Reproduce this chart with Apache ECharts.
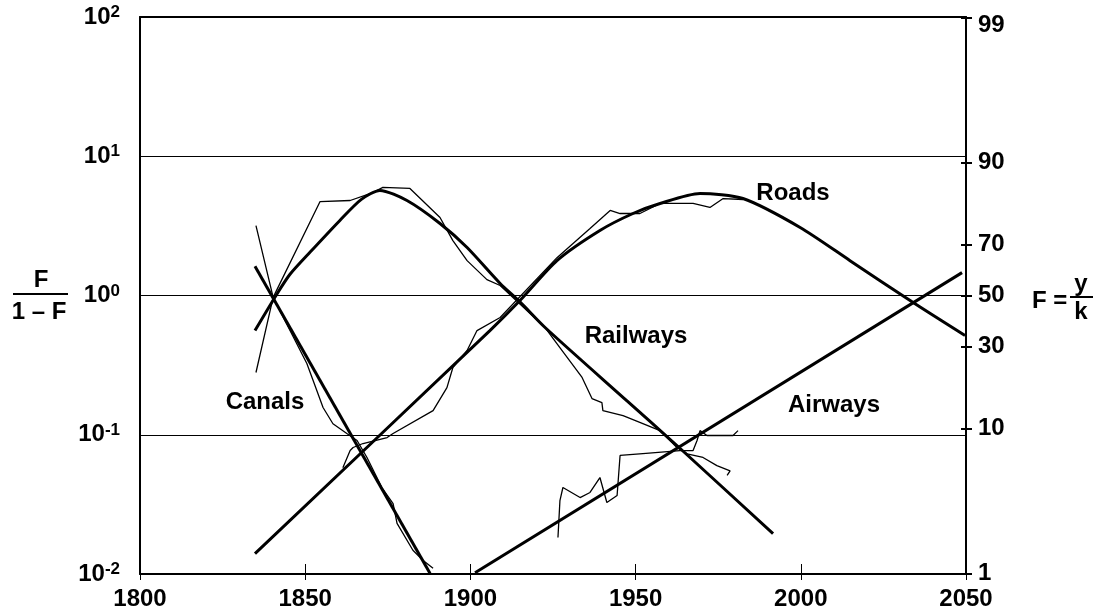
<!DOCTYPE html>
<html>
<head>
<meta charset="utf-8">
<script src="https://cdn.jsdelivr.net/npm/echarts@6/dist/echarts.min.js"></script>
<style>
  html, body { margin: 0; padding: 0; background: #fff; }
  #chart { width: 1100px; height: 616px; }
</style>
</head>
<body>
<div id="chart"></div>
<script>
// F/(1-F) substitution curves, [year, F/(1-F)]
const canalsFit = [[1834.8, 1.62], [1887.8, 0.0101]];
const canalsObs = [
  [1835.1, 3.18], [1840.3, 0.97], [1845.4, 0.56], [1850.5, 0.325], [1852.4, 0.245],
  [1855.4, 0.157], [1858.4, 0.12], [1862.6, 0.102], [1865.7, 0.091], [1868.7, 0.0687],
  [1873.2, 0.0418], [1876.6, 0.032], [1877.8, 0.0231], [1882.6, 0.0148], [1885.7, 0.0125],
  [1888.7, 0.011]
];
const railwaysFit = [
  [1834.8, 0.56], [1841.5, 1.03], [1845.4, 1.42], [1851.5, 2.05], [1860.5, 3.46],
  [1867.0, 4.9], [1872.6, 5.68], [1880.8, 4.81], [1890.8, 3.29], [1899.0, 2.21],
  [1909.0, 1.22], [1915.0, 0.90], [1922.6, 0.589], [1947.4, 0.175], [1962.5, 0.0837],
  [1991.6, 0.0195]
];
const railwaysObs = [
  [1835.1, 0.28], [1840.3, 0.97], [1854.5, 4.73], [1863.6, 4.81], [1870.5, 5.49],
  [1873.5, 5.97], [1881.7, 5.87], [1890.8, 3.63], [1894.7, 2.48], [1899.0, 1.78],
  [1905.0, 1.30], [1909.0, 1.18], [1922.6, 0.589], [1927.7, 0.403], [1933.8, 0.258],
  [1936.8, 0.182], [1939.8, 0.17], [1940.1, 0.149], [1946.2, 0.137], [1952.2, 0.12],
  [1957.4, 0.107], [1962.5, 0.081], [1965.6, 0.073], [1970.4, 0.0687], [1974.6, 0.060],
  [1978.6, 0.055], [1977.7, 0.051]
];
const roadsFit = [
  [1834.8, 0.014], [1905.9, 0.56], [1915.0, 0.92], [1926.2, 1.78], [1939.2, 2.93],
  [1949.2, 3.88], [1957.4, 4.58], [1969.5, 5.40], [1982.5, 4.97], [1999.8, 3.08],
  [2014.9, 1.78], [2034.0, 0.89], [2049.7, 0.516]
];
const roadsObs = [
  [1861.4, 0.058], [1863.6, 0.077], [1864.5, 0.081], [1867.5, 0.0865], [1874.8, 0.0955],
  [1876.6, 0.102], [1888.7, 0.149], [1892.9, 0.218], [1894.7, 0.304], [1899.0, 0.403],
  [1902.0, 0.56], [1909.0, 0.695], [1926.2, 1.87], [1936.2, 3.03], [1942.3, 4.08],
  [1945.3, 3.88], [1951.3, 3.88], [1957.4, 4.58], [1967.4, 4.58], [1972.5, 4.29],
  [1976.5, 4.97], [1982.5, 4.89]
];
const airwaysFit = [[1901.4, 0.0102], [2048.8, 1.46]];
const airwaysObs = [
  [1926.5, 0.0183], [1927.1, 0.0337], [1928.0, 0.0418], [1933.2, 0.0354], [1936.2, 0.0385],
  [1939.2, 0.0493], [1941.3, 0.0326], [1944.4, 0.0366], [1945.3, 0.071], [1952.2, 0.0733],
  [1963.4, 0.077], [1967.4, 0.077], [1968.6, 0.091], [1969.5, 0.107], [1971.6, 0.0988],
  [1979.5, 0.0988], [1981.0, 0.107]
];
// right axis: market share F in percent
const shareTicks = [1, 10, 30, 50, 70, 90, 99];

const FONT = "'Liberation Sans', Arial, sans-serif";
const shareToLog = p => Math.log10(p / (100 - p));
const shareVals = shareTicks.map(shareToLog);

const chart = echarts.init(document.getElementById('chart'));

function lineSeries(data, width, smooth) {
  return {
    type: 'line', data: data, xAxisIndex: 0, yAxisIndex: 0,
    symbol: 'none', smooth: smooth, animation: false,
    lineStyle: { color: '#000', width: width }
  };
}

function txt(text, x, y, size, align) {
  return {
    type: 'text', x: x, y: y, silent: true,
    style: {
      text: text, fill: '#000', font: 'bold ' + size + 'px ' + FONT,
      textAlign: align || 'center', textVerticalAlign: 'middle',
      align: align || 'center', verticalAlign: 'middle'
    }
  };
}

const labelStyle = { color: '#000', fontWeight: 'bold', fontSize: 24, fontFamily: FONT };

chart.setOption({
  backgroundColor: '#fff',
  animation: false,
  grid: { left: 140, right: 134, top: 17, bottom: 42 },
  xAxis: [
    {
      type: 'value', min: 1800, max: 2050, interval: 50, position: 'bottom',
      axisLine: { onZero: false, lineStyle: { color: '#000', width: 2 } },
      axisTick: { show: true, length: 6, lineStyle: { color: '#000', width: 1 } },
      axisLabel: Object.assign({ margin: 13, formatter: v => String(v) }, labelStyle),
      splitLine: { show: false }
    },
    {
      type: 'value', min: 1800, max: 2050, interval: 50, position: 'bottom',
      axisLine: { show: false, onZero: false },
      axisTick: { show: true, inside: true, length: 10, lineStyle: { color: '#000', width: 1 } },
      axisLabel: { show: false },
      splitLine: { show: false }
    },
    {
      type: 'value', min: 1800, max: 2050, position: 'top',
      axisLine: { onZero: false, lineStyle: { color: '#000', width: 2 } },
      axisTick: { show: false }, axisLabel: { show: false }, splitLine: { show: false }
    }
  ],
  yAxis: [
    {
      type: 'log', logBase: 10, min: 0.01, max: 100, position: 'left',
      axisLine: { show: true, onZero: false, lineStyle: { color: '#000', width: 2 } },
      axisTick: { show: false },
      axisLabel: {
        margin: 20,
        formatter: v => '{b|10}{s|' + Math.round(Math.log10(v)) + '}',
        rich: {
          b: { fontSize: 24, fontWeight: 'bold', fontFamily: FONT, color: '#000', lineHeight: 26 },
          s: { fontSize: 17, fontWeight: 'bold', fontFamily: FONT, color: '#000', lineHeight: 17, verticalAlign: 'top' }
        }
      },
      splitLine: { show: true, lineStyle: { color: '#000', width: 1 } }
    },
    {
      type: 'value', min: -2, max: 2, position: 'right',
      axisLine: { show: true, onZero: false, lineStyle: { color: '#000', width: 2 } },
      axisTick: { show: true, length: 6, customValues: shareVals, lineStyle: { color: '#000', width: 2 } },
      axisLabel: Object.assign({
        margin: 12, customValues: shareVals,
        formatter: v => {
          const p = Math.round(100 * Math.pow(10, v) / (1 + Math.pow(10, v)));
          return p === 99 ? '{low|99}' : String(p);
        },
        rich: { low: { fontSize: 24, fontWeight: 'bold', fontFamily: FONT, color: '#000', padding: [15, 0, 0, 0] } }
      }, labelStyle),
      splitLine: { show: false }
    },
    {
      type: 'value', min: -2, max: 2, position: 'right',
      axisLine: { show: false, onZero: false },
      axisTick: { show: true, inside: true, length: 5, customValues: shareVals, lineStyle: { color: '#000', width: 2 } },
      axisLabel: { show: false, customValues: shareVals },
      splitLine: { show: false }
    }
  ],
  series: [
    lineSeries(canalsObs, 1.3, false),
    lineSeries(railwaysObs, 1.3, false),
    lineSeries(roadsObs, 1.3, false),
    lineSeries(airwaysObs, 1.3, false),
    lineSeries(canalsFit, 3, false),
    lineSeries(railwaysFit, 3, 0.25),
    lineSeries(roadsFit, 3, 0.25),
    lineSeries(airwaysFit, 3, false)
  ],
  graphic: [
    // left axis title F / (1 - F)
    txt('F', 41, 280, 24),
    { type: 'line', silent: true, shape: { x1: 13, y1: 294, x2: 68, y2: 294 }, style: { stroke: '#000', lineWidth: 2 } },
    txt('1 – F', 39, 312, 24),
    // right axis title F = y / k
    txt('F =', 1032, 301, 24, 'left'),
    txt('y', 1081, 284, 24),
    { type: 'line', silent: true, shape: { x1: 1070, y1: 297, x2: 1093, y2: 297 }, style: { stroke: '#000', lineWidth: 2 } },
    txt('k', 1081, 312, 24),
    // series names
    txt('Canals', 265, 402, 24),
    txt('Railways', 636, 336, 24),
    txt('Roads', 793, 193, 24),
    txt('Airways', 788, 405, 24, 'left')
  ]
});
</script>
</body>
</html>
